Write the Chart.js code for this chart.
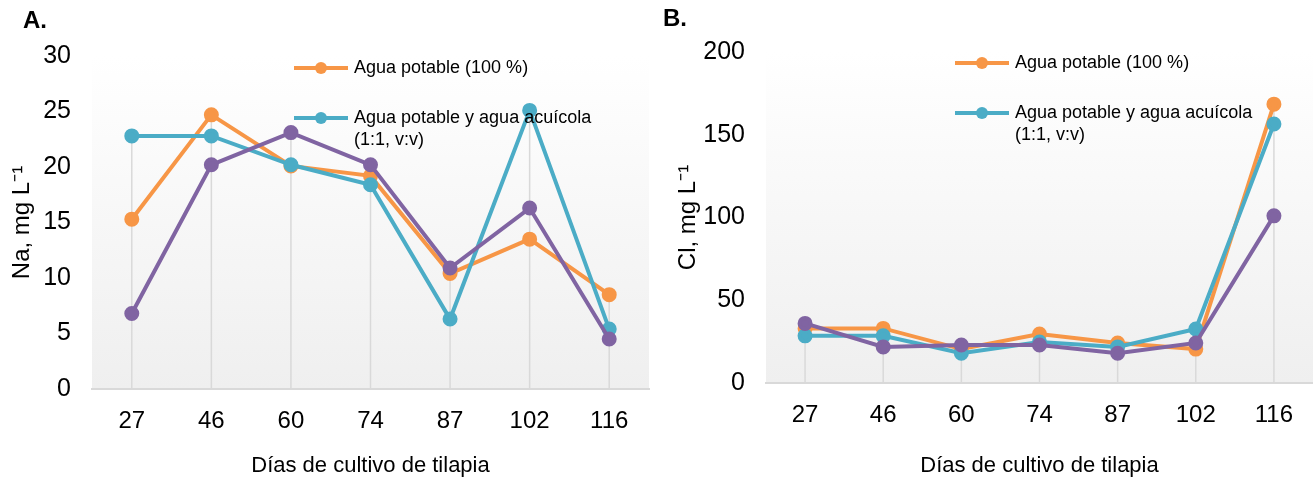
<!DOCTYPE html>
<html>
<head>
<meta charset="utf-8">
<script src="https://cdn.jsdelivr.net/npm/chart.js@4.4.1/dist/chart.umd.min.js"></script>
<style>
  body { margin: 0; background: #fff; width: 1313px; height: 479px; position: relative; overflow: hidden; font-family: "Liberation Sans", Arial, sans-serif; }
  .panel { position: absolute; top: 0; height: 479px; }
  .tag { position: absolute; font-weight: bold; font-size: 24px; line-height: 24px; color: #000; }
</style>
</head>
<body>
<div class="panel" style="left:0;width:650px"><canvas id="naChart" width="650" height="479"></canvas></div>
<div class="panel" style="left:650px;width:663px"><canvas id="clChart" width="663" height="479"></canvas></div>
<div class="tag" style="left:23px;top:8px">A.</div>
<div class="tag" style="left:663px;top:6px">B.</div>
<script>
// days of tilapia culture (x categories)
const days = ['27', '46', '60', '74', '87', '102', '116'];

// Na, mg L-1
const naPotable = [15.3, 24.7, 20.1, 19.2, 10.4, 13.5, 8.5];
const naMezcla  = [22.8, 22.8, 20.2, 18.4, 6.3, 25.1, 5.4];
const naAcuicola = [6.8, 20.2, 23.1, 20.2, 10.9, 16.3, 4.5];

// Cl, mg L-1
const clPotable = [33, 33, 20.5, 29.6, 24.2, 20.5, 168.5];
const clMezcla  = [28.5, 28.5, 18, 24.8, 21.8, 32.6, 156.5];
const clAcuicola = [36, 21.8, 23, 23, 18, 24.2, 101];

const seriesLabels = ['Agua potable (100 %)', 'Agua potable y agua acuícola (1:1, v:v)', 'Agua acuícola'];
const legendLines = [['Agua potable (100 %)'], ['Agua potable y agua acuícola', '(1:1, v:v)']];
const colors = ['#F79646', '#4BACC6', '#8064A2'];
const FONT = '"Liberation Sans", Arial, sans-serif';

// light gradient behind the plot
const plotBg = {
    id: 'plotBg',
    beforeDraw(chart) {
        const { ctx, chartArea: a } = chart;
        const g = ctx.createLinearGradient(0, a.top, 0, a.bottom);
        g.addColorStop(0, '#ffffff');
        g.addColorStop(1, '#efefef');
        ctx.save();
        ctx.fillStyle = g;
        ctx.fillRect(a.left, a.top, a.right - a.left, a.bottom - a.top);
        ctx.restore();
    }
};

// vertical drop lines from the highest point of each category down to the axis
const dropLines = {
    id: 'dropLines',
    beforeDatasetsDraw(chart) {
        const { ctx, chartArea, scales: { x, y } } = chart;
        ctx.save();
        ctx.strokeStyle = '#d9d9d9';
        ctx.lineWidth = 1.5;
        chart.data.labels.forEach((lab, i) => {
            const top = Math.max(...chart.data.datasets.map(d => d.data[i]));
            const px = x.getPixelForValue(i);
            ctx.beginPath();
            ctx.moveTo(px, y.getPixelForValue(top));
            ctx.lineTo(px, chartArea.bottom);
            ctx.stroke();
        });
        ctx.restore();
    }
};

// legend placed inside the chart, only the first two series
const inlineLegend = {
    id: 'inlineLegend',
    afterDatasetsDraw(chart, args, opts) {
        const ctx = chart.ctx;
        ctx.save();
        legendLines.forEach((lines, i) => {
            const color = chart.data.datasets[i].borderColor;
            const y = opts.y[i];
            ctx.strokeStyle = color;
            ctx.lineWidth = 4;
            ctx.beginPath();
            ctx.moveTo(opts.x, y);
            ctx.lineTo(opts.x + 54, y);
            ctx.stroke();
            ctx.fillStyle = color;
            ctx.beginPath();
            ctx.arc(opts.x + 27, y, 6, 0, Math.PI * 2);
            ctx.fill();
            ctx.fillStyle = '#000';
            ctx.font = '18px ' + FONT;
            ctx.textBaseline = 'middle';
            lines.forEach((t, k) => ctx.fillText(t, opts.x + 60, y + k * 22));
        });
        ctx.restore();
    }
};

function makeChart(id, series, yMax, step, yTitle, lay) {
    const datasets = series.map((s, i) => ({
        label: seriesLabels[i],
        data: s,
        borderColor: colors[i],
        backgroundColor: colors[i],
        borderWidth: 4,
        pointRadius: 5.5,
        pointHoverRadius: 5.5,
        tension: 0,
        clip: false,
        order: 3 - i
    }));
    return new Chart(document.getElementById(id), {
        type: 'line',
        data: { labels: days, datasets },
        plugins: [plotBg, dropLines, inlineLegend],
        options: {
            responsive: false,
            animation: false,
            layout: { autoPadding: false, padding: { top: lay.top, left: lay.left, right: lay.right, bottom: 0 } },
            plugins: {
                legend: { display: false },
                tooltip: { enabled: false },
                inlineLegend: { x: lay.legX, y: lay.legY }
            },
            scales: {
                x: {
                    offset: true,
                    grid: { display: true, color: 'rgba(0,0,0,0)', drawTicks: false },
                    border: { display: true, color: '#d9d9d9', width: 2 },
                    ticks: { color: '#000', font: { family: FONT, size: 24 }, padding: 18, maxRotation: 0 },
                    title: { display: true, text: 'Días de cultivo de tilapia', color: '#000', font: { family: FONT, size: 22 }, padding: { top: lay.titlePad, bottom: 0 } },
                    afterFit(s) { s.height = lay.xh; s.paddingLeft = 0; s.paddingRight = 0; }
                },
                y: {
                    min: 0, max: yMax,
                    grid: { display: false, drawTicks: false },
                    border: { display: false },
                    ticks: { stepSize: step, color: '#000', font: { family: FONT, size: 25 }, padding: 21 },
                    title: { display: true, text: yTitle, color: '#000', font: { family: FONT, size: 24 }, padding: { top: 4, bottom: 4 } },
                    afterFit(s) { s.width = lay.yw; }
                }
            }
        }
    });
}

makeChart('naChart', [naPotable, naMezcla, naAcuicola], 30, 5, 'Na, mg L⁻¹',
    { top: 56, left: 4, right: 1, xh: 90, yw: 88, titlePad: -3, legX: 294, legY: [68, 118] });
makeChart('clChart', [clPotable, clMezcla, clAcuicola], 200, 50, 'Cl, mg L⁻¹',
    { top: 52, left: 20, right: 0, xh: 96, yw: 96, titlePad: 5, legX: 305, legY: [63, 113] });
</script>
</body>
</html>
